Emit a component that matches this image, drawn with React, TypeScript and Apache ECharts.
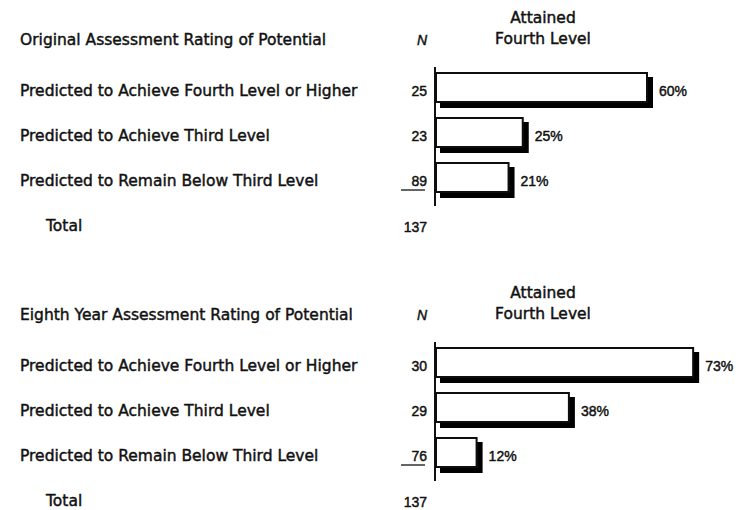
import React, { useEffect, useRef } from "react";
import * as echarts from "echarts";

// Row labels (same three ratings in both panels)
const ratingLabels = [
  "Predicted to Achieve Fourth Level or Higher",
  "Predicted to Achieve Third Level",
  "Predicted to Remain Below Third Level",
];

// Original assessment
const originalN = [25, 23, 89];
const originalPct = [60, 25, 21];

// Eighth-year assessment
const eighthN = [30, 29, 76];
const eighthPct = [73, 38, 12];

const panelTitles = [
  "Original Assessment Rating of Potential",
  "Eighth Year Assessment Rating of Potential",
];
const totals = [137, 137];

const TEXT_FONT = "DejaVu Sans";
const NUM_FONT = "Liberation Sans";
const INK = "#111111";
const TEXT_SIZE = 15.5;
const NUM_SIZE = 14;
const HEAVY = 0.45; // slight stroke to give the print-like weight

export default function App() {
  const ref = useRef<HTMLDivElement>(null);

  useEffect(() => {
    document.body.style.margin = "0";
    if (!ref.current) return;
    const chart = echarts.init(ref.current, undefined, { renderer: "svg" });

    const panels = [
      { top: 65, nValues: originalN, pct: originalPct },
      { top: 340, nValues: eighthN, pct: eighthPct },
    ];
    const bandH = 135;
    const left = 435;
    const shift = 275; // vertical distance between the two panels

    const yAxes = panels.map((p, i) => ({
      type: "category" as const,
      gridIndex: i,
      inverse: true,
      data: ratingLabels,
      axisLine: { show: false },
      axisTick: { show: false },
      axisLabel: {
        margin: 8,
        padding: [7, 0, 0, 0],
        formatter: (v: string, idx: number) => `{name|${v}}{n|${p.nValues[idx]}}`,
        rich: {
          name: {
            width: 380, align: "left", fontFamily: TEXT_FONT, fontSize: TEXT_SIZE, color: INK,
            textBorderColor: INK, textBorderWidth: HEAVY,
          },
          n: {
            width: 27, align: "right", fontFamily: NUM_FONT, fontSize: NUM_SIZE, color: INK,
            textBorderColor: INK, textBorderWidth: HEAVY,
          },
        },
      },
    }));

    const xAxes = panels.map((_, i) => ({
      type: "value" as const,
      gridIndex: i,
      min: 0,
      max: 80,
      show: false,
    }));

    const series = panels.map((p, i) => ({
      type: "bar" as const,
      xAxisIndex: i,
      yAxisIndex: i,
      data: p.pct,
      barWidth: 31,
      itemStyle: {
        color: "#ffffff",
        borderColor: INK,
        borderWidth: 2,
        shadowColor: "#000000",
        shadowOffsetX: 5,
        shadowOffsetY: 5,
        shadowBlur: 0,
      },
      label: {
        show: true,
        position: "right" as const,
        distance: 11,
        offset: [0, 3],
        formatter: "{c}%",
        fontFamily: NUM_FONT,
        fontSize: NUM_SIZE,
        color: INK,
        textBorderColor: INK,
        textBorderWidth: HEAVY,
      },
    }));

    const textStyle = (text: string, extra: any = {}) => ({
      text,
      font: `${TEXT_SIZE}px "${TEXT_FONT}"`,
      fill: INK,
      stroke: INK,
      lineWidth: HEAVY,
      verticalAlign: "middle",
      ...extra,
    });

    const graphic: any[] = [];
    [0, 1].forEach((i) => {
      const dy = i * shift;
      graphic.push(
        { type: "text", x: 20, y: 40 + dy, style: textStyle(panelTitles[i]) },
        { type: "text", x: 422, y: 40 + dy, style: textStyle("N", { font: `italic ${NUM_SIZE}px "${NUM_FONT}"`, align: "center" }) },
        { type: "text", x: 543, y: 18 + dy, style: textStyle("Attained", { align: "center" }) },
        { type: "text", x: 543, y: 39 + dy, style: textStyle("Fourth Level", { align: "center" }) },
        { type: "text", x: 46, y: 226 + dy, style: textStyle("Total") },
        { type: "text", x: 427, y: 227 + dy, style: textStyle(String(totals[i]), { font: `${NUM_SIZE}px "${NUM_FONT}"`, align: "right" }) },
        // vertical baseline of the bars
        { type: "line", shape: { x1: 435, y1: 67 + dy, x2: 435, y2: 206 + dy }, style: { stroke: INK, lineWidth: 2 } },
        // rule under the last N value
        { type: "line", shape: { x1: 401, y1: 190 + dy, x2: 425, y2: 190 + dy }, style: { stroke: INK, lineWidth: 1.3 } }
      );
    });

    chart.setOption({
      animation: false,
      backgroundColor: "#ffffff",
      grid: panels.map((p) => ({ left, top: p.top, height: bandH, width: 284 })),
      xAxis: xAxes,
      yAxis: yAxes,
      series,
      graphic,
    });

    return () => chart.dispose();
  }, []);

  return <div ref={ref} style={{ width: 749, height: 510 }} />;
}
